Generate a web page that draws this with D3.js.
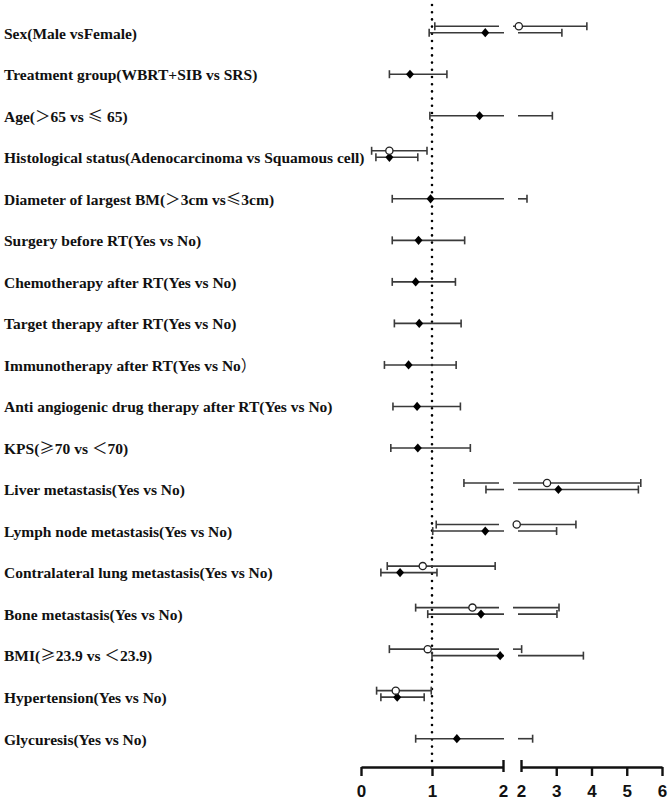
<!DOCTYPE html>
<html>
<head>
<meta charset="utf-8">
<script src="https://cdn.jsdelivr.net/npm/d3@7"></script>
<style>
  body { margin: 0; background: #fff; }
  figure { margin: 0; }
</style>
</head>
<body>
<figure></figure>
<script>
const labels = [
  "Sex(Male vsFemale)",
  "Treatment group(WBRT+SIB vs SRS)",
  "Age(\uFF1E65 vs \u2264 65)",
  "Histological status(Adenocarcinoma vs Squamous cell)",
  "Diameter of largest BM(\uFF1E3cm vs\u22643cm)",
  "Surgery before RT(Yes vs No)",
  "Chemotherapy after RT(Yes vs No)",
  "Target therapy after RT(Yes vs No)",
  "Immunotherapy after RT(Yes vs No\uFF09",
  "Anti angiogenic drug therapy after RT(Yes vs No)",
  "KPS(\u226570 vs \uFF1C70)",
  "Liver metastasis(Yes vs No)",
  "Lymph node metastasis(Yes vs No)",
  "Contralateral lung metastasis(Yes vs No)",
  "Bone metastasis(Yes vs No)",
  "BMI(\u226523.9 vs \uFF1C23.9)",
  "Hypertension(Yes vs No)",
  "Glycuresis(Yes vs No)",
];

// open circles (null = not shown)
const circleHR = [2.08, null, null, 0.47, null, null, null, null, null, null, null, 2.88, 2.02, 0.94, 1.64, 1.01, 0.56, null];
const circleLo = [1.11, null, null, 0.22, null, null, null, null, null, null, null, 1.52, 1.13, 0.44, 0.84, 0.47, 0.29, null];
const circleHi = [4.01, null, null, 1.00, null, null, null, null, null, null, null, 5.54, 3.70, 1.96, 3.22, 2.16, 1.06, null];

// filled diamonds
const diamondHR = [1.75, 0.69, 1.67, 0.40, 0.98, 0.81, 0.77, 0.82, 0.67, 0.79, 0.80, 3.06, 1.75, 0.55, 1.69, 1.96, 0.51, 1.35];
const diamondLo = [0.96, 0.40, 0.97, 0.21, 0.44, 0.44, 0.44, 0.47, 0.33, 0.45, 0.42, 1.76, 1.01, 0.28, 0.94, 1.00, 0.28, 0.77];
const diamondHi = [3.16, 1.21, 2.89, 0.80, 2.17, 1.46, 1.33, 1.41, 1.34, 1.40, 1.54, 5.33, 3.01, 1.07, 3.02, 3.77, 0.89, 2.33];

const ticksLeft = [0, 1, 2];
const ticksRight = [2, 3, 4, 5, 6];

const width = 670;
const height = 804;
const lineColor = "#3a3a3a";
const axisY = 767;
const wideChars = /([\uFF1E\uFF1C\uFF09\u2264\u2265])/;

const svg = d3.select("figure").append("svg")
  .attr("width", width)
  .attr("height", height);

const y = d3.scalePoint().domain(labels).range([32.7, 738.7]);
const xLeft = d3.scaleLinear().domain([0, 2]).range([361, 503]);
const xRight = d3.scaleLinear().domain([2, 6]).range([521, 662]);

// row labels, the comparison signs come from a CJK font like in the original
svg.append("g")
  .selectAll("text")
  .data(labels)
  .join("text")
  .attr("x", 4)
  .attr("y", (d) => y(d) + 5.8)
  .attr("font-family", "'Liberation Serif', 'Times New Roman', serif")
  .attr("font-weight", "bold")
  .attr("font-size", 15.5)
  .attr("fill", "#111")
  .each(function (d) {
    const t = d3.select(this);
    d.split(wideChars).filter((p) => p !== "").forEach((part) => {
      const span = t.append("tspan").text(part);
      if (wideChars.test(part)) {
        span.attr("font-family", "'Noto Sans CJK SC', sans-serif").attr("font-weight", "normal");
      }
    });
  });

// reference line at 1
svg.append("line")
  .attr("x1", xLeft(1)).attr("x2", xLeft(1))
  .attr("y1", 5).attr("y2", axisY - 5)
  .attr("stroke", "#000")
  .attr("stroke-width", 2.6)
  .attr("stroke-linecap", "round")
  .attr("stroke-dasharray", "0 7.2");

function buildRows(hr, lo, hi, dy, shift) {
  return labels
    .map((label, i) => ({ label, hr: hr[i], lo: lo[i], hi: hi[i], dy, shift }))
    .filter((d) => d.hr !== null);
}

function xPos(v) {
  return v <= 2 ? xLeft(v) : xRight(v);
}

function drawSeries(rows, kind) {
  const g = svg.append("g").attr("stroke", lineColor).attr("stroke-width", 1.6);

  rows.forEach((d) => {
    const yy = y(d.label) + d.dy;
    const s = d.shift;
    const segs = [];
    if (d.lo < 2) {
      const end = d.hi <= 2 ? xLeft(d.hi) : xLeft(2) + 1;
      segs.push([xLeft(d.lo), end]);
    }
    if (d.hi > 2) {
      const start = d.lo >= 2 ? xRight(d.lo) : xRight(2) - 3;
      segs.push([start, xRight(d.hi)]);
    }
    segs.forEach(([a, b]) => {
      g.append("line")
        .attr("x1", a + s).attr("x2", b + s)
        .attr("y1", yy).attr("y2", yy);
    });
    [d.lo, d.hi].forEach((v) => {
      g.append("line")
        .attr("x1", xPos(v) + s).attr("x2", xPos(v) + s)
        .attr("y1", yy - 4).attr("y2", yy + 4);
    });

    const px = xPos(d.hr) + s;
    if (kind === "circle") {
      svg.append("circle")
        .attr("cx", px).attr("cy", yy).attr("r", 3.6)
        .attr("fill", "#fff")
        .attr("stroke", "#222")
        .attr("stroke-width", 1.3);
    } else {
      svg.append("path")
        .attr("d", "M0,-4.6L4,0L0,4.6L-4,0Z")
        .attr("transform", `translate(${px},${yy})`)
        .attr("fill", "#000");
    }
  });
}

drawSeries(buildRows(diamondHR, diamondLo, diamondHi, 0, 0), "diamond");
drawSeries(buildRows(circleHR, circleLo, circleHi, -6.5, -5), "circle");

// broken x axis
function drawAxis(scale, values, breakValue) {
  const g = svg.append("g")
    .attr("transform", `translate(0,${axisY})`)
    .call(
      d3.axisBottom(scale)
        .tickValues(values)
        .tickFormat(d3.format("d"))
        .tickSize(9)
        .tickSizeOuter(0)
        .tickPadding(9)
    );

  g.select(".domain")
    .attr("stroke", "#111")
    .attr("stroke-width", 2.6);

  g.selectAll(".tick line")
    .attr("stroke", "#111")
    .attr("stroke-width", 2.4)
    .filter((d) => d === breakValue)
    .attr("y1", -7)
    .attr("y2", 5);

  g.selectAll(".tick text")
    .attr("font-family", "'Liberation Sans', Arial, sans-serif")
    .attr("font-weight", "bold")
    .attr("font-size", 17)
    .attr("fill", "#111");
}

drawAxis(xLeft, ticksLeft, 2);
drawAxis(xRight, ticksRight, 2);
</script>
</body>
</html>
